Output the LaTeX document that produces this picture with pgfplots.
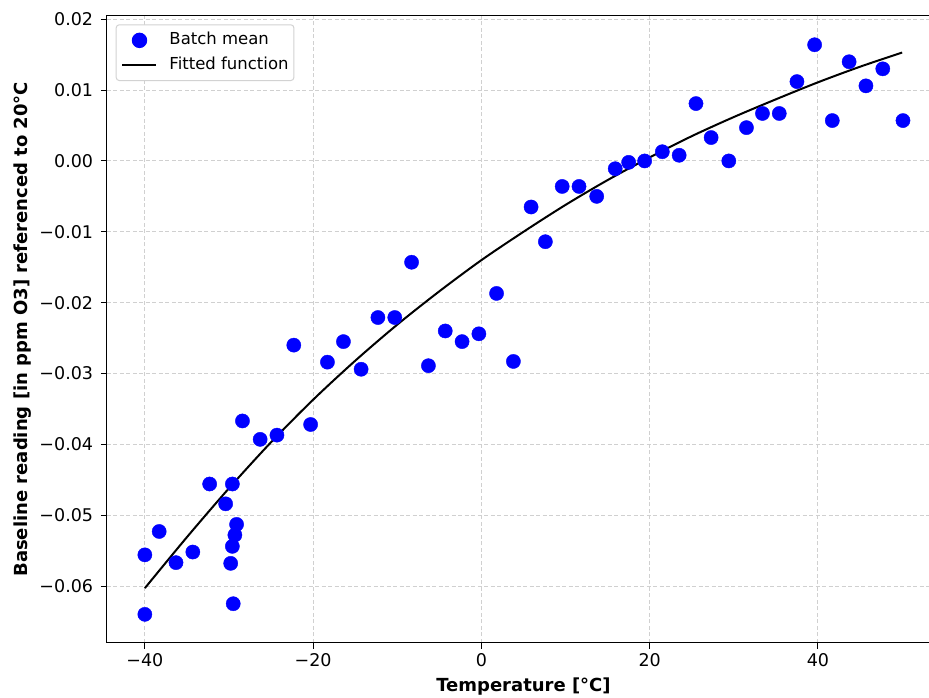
\documentclass[border=0pt]{standalone}
\usepackage{fontspec}
\setmainfont{DejaVu Sans}
\usepackage{pgfplots}
\pgfplotsset{compat=1.18}
\definecolor{gridgray}{RGB}{208,208,208}
\definecolor{leggray}{RGB}{210,210,210}
\begin{document}
\begin{tikzpicture}
\begin{axis}[
  at={(0pt,0pt)}, anchor=south west,
  scale only axis, width=833pt, height=627pt,
  xmin=-44.5, xmax=54.5, ymin=-0.0680, ymax=0.0205,
  xtick={-40,-20,0,20,40}, xticklabels={−40,−20,0,20,40},
  ytick={-0.06,-0.05,-0.04,-0.03,-0.02,-0.01,0,0.01,0.02},
  yticklabels={−0.06,−0.05,−0.04,−0.03,−0.02,−0.01,0.00,0.01,0.02},
  scaled y ticks=false,
  tick align=outside, major tick length=6pt,
  xtick pos=left, ytick pos=left,
  tick style={black, line width=1pt},
  axis line style={line width=1pt},
  grid=major,
  major grid style={gridgray, dash pattern=on 4pt off 2.5pt, line width=1pt},
  ticklabel style={font=\fontsize{17.5}{20}\selectfont, inner sep=0pt},
  xticklabel style={anchor=north, yshift=-4.8pt},
  yticklabel style={anchor=east, xshift=-7.7pt},
  xlabel={Temperature [°C]},
  ylabel={Baseline reading [in ppm O3] referenced to 20°C},
  label style={font=\bfseries\fontsize{18}{20}\selectfont},
  xlabel style={at={(axis description cs:0.5,-0.0786)}, anchor=base},
  ylabel style={at={(axis description cs:-0.0960,0.5)}, anchor=base},
  legend cell align=left,
  legend style={at={(axis description cs:0,1)}, anchor=north west,
    xshift=8.7pt, yshift=-8.6pt,
    draw=leggray, line width=1pt, rounded corners=3pt, fill=white,
    inner xsep=5.3pt, inner ysep=3.25pt,
    font=\fontsize{16.5}{19}\selectfont,
    nodes={inner sep=0pt, minimum height=24.6pt, text height=12pt, text depth=3.5pt},
    column sep=0pt, row sep=0pt},
]
\addplot[only marks, mark=*, mark size=7.1pt, color=blue,
  mark options={draw=blue, fill=blue},
  legend image code/.code={\path (0pt,0pt) (46pt,0pt); \fill[blue] (17pt,0pt) circle (7.2pt);}]
coordinates {
(-40.0,-0.0556) (-40.0,-0.0640) (-38.3,-0.0523) (-36.3,-0.0567) (-34.3,-0.0552)
(-32.3,-0.0456) (-30.4,-0.0484) (-29.6,-0.0456) (-29.1,-0.0513) (-29.3,-0.0528)
(-29.6,-0.0544) (-29.8,-0.0568) (-29.5,-0.0625) (-28.4,-0.0367) (-26.3,-0.0393)
(-24.3,-0.0387) (-22.3,-0.0260) (-20.3,-0.0372) (-18.3,-0.0284) (-16.4,-0.0255)
(-14.3,-0.0294) (-12.3,-0.0221) (-10.3,-0.0221) (-8.3,-0.0143) (-6.3,-0.0289)
(-4.3,-0.0240) (-2.3,-0.0255) (-0.3,-0.0244) (1.8,-0.0187) (3.8,-0.0283)
(5.9,-0.0065) (7.6,-0.0114) (9.6,-0.0036) (11.6,-0.0036) (13.7,-0.0050)
(15.9,-0.0011) (17.5,-0.0002) (19.4,0.0000) (21.5,0.0013) (23.5,0.0008)
(25.5,0.0081) (27.3,0.0033) (29.4,0.0000) (31.5,0.0047) (33.4,0.0067)
(35.4,0.0067) (37.5,0.0112) (39.6,0.0164) (41.7,0.0057) (43.7,0.0140)
(45.7,0.0106) (47.7,0.0130) (50.1,0.0057)
};
\addlegendentry{Batch mean}
\addplot[black, line width=2pt, smooth,
  legend image code/.code={\path (0pt,0pt) (46pt,0pt); \draw[black, line width=2pt] (0pt,0pt) -- (34pt,0pt);}]
coordinates {
(-40,-0.0603) (-35,-0.0531) (-30,-0.0462) (-25,-0.0397) (-20,-0.0337)
(-15,-0.0282) (-10,-0.0231) (-5,-0.0184) (0,-0.0140) (5,-0.0100)
(10,-0.0062) (15,-0.0027) (20,0.0005) (25,0.0035) (30,0.0062)
(35,0.0087) (40,0.0111) (45,0.0133) (50,0.0153)
};
\addlegendentry{Fitted function}
\end{axis}
\pgfresetboundingbox
\useasboundingbox (-107pt,-54.3pt) rectangle (822pt,642.7pt);
\end{tikzpicture}
\end{document}
